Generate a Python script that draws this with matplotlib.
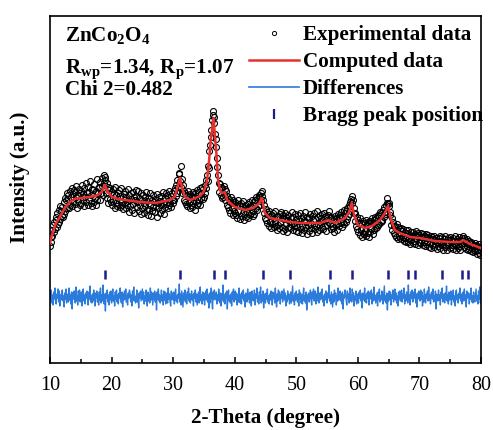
import numpy as np
import matplotlib
matplotlib.use("Agg")
import matplotlib.pyplot as plt
from matplotlib.lines import Line2D

plt.rcParams['font.family'] = ['Liberation Serif', 'DejaVu Serif']
plt.rcParams['mathtext.fontset'] = 'custom'
plt.rcParams['mathtext.rm'] = 'Liberation Serif'
plt.rcParams['mathtext.bf'] = 'Liberation Serif:bold'

# refined (computed) profile
calc_x = [10.0, 10.5, 11.0, 11.6, 12.4, 13.2, 14.0, 14.9, 16.5, 17.8, 18.4, 18.9, 19.4,
          20.1, 21.0, 22.2, 24.6, 27.1, 29.5, 30.2, 30.6, 31.1, 31.5, 31.9, 32.8, 34.4,
          35.0, 35.5, 35.8, 36.1, 36.55, 37.0, 37.3, 37.6, 37.9, 38.4, 38.75, 40.0, 41.7,
          43.0, 44.0, 44.4, 44.9, 45.7, 47.4, 49.0, 50.6, 52.2, 53.9, 55.2, 56.3, 57.9,
          58.6, 59.0, 59.4, 60.0, 61.2, 62.3, 63.6, 64.4, 64.9, 65.4, 66.0, 66.8, 68.5,
          70.1, 72.5, 75.0, 76.6, 77.1, 78.2, 80.0]
calc_y = [120, 132, 140, 146, 155, 161, 164, 165, 166, 168, 171, 178, 171,
          166, 164, 163, 161, 160, 163, 166, 173, 185, 174, 166, 163, 167,
          172, 182, 200, 222, 245, 212, 183, 173, 170, 171, 163, 156, 153,
          155, 160, 165, 150, 145, 143, 141, 140, 140, 140, 143, 140, 145,
          151, 160, 148, 138, 135, 137, 143, 150, 157, 143, 133, 130, 126,
          125, 122, 121, 121, 123, 119, 115]

# observed intensities, 10.0 .. 80.0 deg in 0.1 deg steps
obs_start, obs_step = 10.0, 0.1
obs_y = [
    117, 126, 121, 133, 127, 138, 131, 141, 134, 146,
    143, 136, 150, 139, 153, 141, 157, 144, 152, 147,
    156, 146, 161, 149, 165, 152, 163, 170, 155, 164,
    168, 155, 172, 158, 166, 175, 157, 169, 161, 173,
    159, 171, 166, 177, 155, 168, 162, 174, 158, 170,
    172, 160, 178, 163, 169, 157, 175, 166, 180, 161,
    170, 158, 176, 163, 171, 182, 160, 168, 174, 157,
    173, 161, 179, 165, 158, 172, 184, 163, 170, 176,
    175, 163, 181, 170, 177, 185, 168, 180, 188, 183,
    186, 170, 180, 165, 176, 160, 173, 164, 175, 161,
    171, 158, 174, 162, 169, 155, 176, 160, 168, 157,
    170, 159, 173, 156, 167, 161, 175, 158, 166, 154,
    169, 160, 172, 155, 165, 158, 174, 162, 151, 168,
    157, 170, 164, 153, 171, 159, 166, 150, 163, 173,
    167, 156, 161, 172, 152, 165, 158, 170, 149, 163,
    155, 168, 160, 150, 166, 157, 171, 153, 162, 148,
    165, 154, 170, 158, 147, 163, 152, 168, 156, 161,
    151, 164, 157, 169, 146, 160, 155, 166, 150, 162,
    158, 167, 153, 171, 160, 149, 165, 156, 170, 159,
    168, 155, 166, 158, 172, 160, 167, 156, 170, 163,
    160, 172, 163, 175, 167, 178, 170, 183, 176, 189,
    190, 182, 197, 176, 184, 170, 178, 163, 172, 161,
    170, 159, 168, 157, 172, 160, 166, 155, 169, 158,
    167, 156, 171, 160, 166, 153, 170, 162, 158, 173,
    160, 171, 163, 175, 158, 169, 165, 176, 164, 174,
    166, 178, 170, 183, 175, 188, 182, 197, 195, 212,
    218, 226, 233, 243, 248, 252, 246, 240, 229, 224,
    216, 205, 196, 188, 180, 171, 179, 168, 176, 165,
    175, 166, 177, 169, 174, 163, 172, 158, 167, 156,
    164, 153, 161, 150, 166, 155, 160, 148, 163, 152,
    150, 161, 148, 158, 145, 163, 152, 159, 144, 157,
    160, 147, 157, 150, 162, 143, 155, 149, 158, 146,
    151, 159, 145, 156, 161, 148, 157, 150, 163, 147,
    152, 161, 149, 163, 155, 166, 153, 164, 157, 168,
    166, 158, 170, 162, 172, 167, 163, 150, 158, 145,
    154, 143, 151, 140, 149, 137, 152, 141, 147, 135,
    148, 139, 150, 136, 145, 141, 152, 137, 146, 133,
    138, 147, 135, 149, 140, 151, 136, 145, 132, 148,
    144, 134, 150, 139, 146, 131, 143, 148, 136, 141,
    135, 145, 139, 151, 133, 146, 140, 137, 149, 132,
    144, 136, 148, 131, 142, 139, 150, 134, 145, 130,
    137, 147, 133, 143, 151, 136, 141, 129, 146, 138,
    145, 132, 149, 139, 135, 147, 130, 143, 138, 150,
    134, 144, 137, 152, 131, 146, 139, 133, 148, 141,
    145, 136, 149, 134, 143, 150, 137, 146, 132, 147,
    138, 148, 141, 152, 139, 145, 134, 146, 137, 143,
    135, 144, 131, 147, 138, 145, 133, 149, 140, 146,
    137, 148, 140, 151, 136, 147, 141, 153, 139, 150,
    141, 152, 144, 155, 147, 158, 149, 161, 157, 164,
    167, 160, 163, 150, 155, 142, 150, 137, 146, 134,
    143, 131, 140, 128, 145, 133, 139, 126, 142, 130,
    129, 140, 132, 143, 127, 138, 130, 141, 126, 142,
    131, 142, 134, 145, 129, 140, 143, 133, 146, 135,
    145, 136, 148, 138, 147, 139, 151, 141, 150, 143,
    142, 153, 146, 156, 151, 158, 149, 160, 165, 159,
    160, 157, 151, 148, 138, 145, 133, 141, 130, 137,
    128, 137, 126, 139, 133, 124, 136, 127, 134, 125,
    135, 124, 132, 126, 134, 122, 130, 125, 133, 121,
    130, 121, 133, 124, 128, 119, 131, 123, 127, 120,
    131, 122, 129, 119, 132, 124, 127, 118, 130, 121,
    128, 120, 130, 123, 126, 118, 129, 121, 127, 117,
    129, 119, 126, 121, 128, 116, 125, 120, 127, 115,
    126, 118, 124, 127, 116, 123, 119, 125, 114, 121,
    117, 125, 120, 127, 115, 122, 118, 126, 113, 121,
    124, 116, 127, 118, 121, 113, 125, 119, 123, 115,
    126, 116, 123, 118, 125, 114, 122, 119, 127, 113,
    118, 124, 115, 122, 117, 126, 113, 123, 119, 125,
    127, 120, 125, 116, 123, 114, 121, 117, 124, 113,
    122, 114, 120, 112, 121, 115, 119, 111, 118, 113,
    120, 112, 118, 109, 117, 113, 119, 110, 116, 108,
    112,
]

# obs - calc, same grid
diff_y = [
    4, -3, 7, -6, 2, -8, 5, -2, 9, -4,
    -7, 3, -1, 8, -5, 6, -9, 2, -3, 5,
    7, -4, 1, -10, 4, -2, 8, -6, 3, -1,
    -5, 9, -3, 2, -7, 5, -12, 4, -2, 6,
    3, -6, 10, -4, 1, -8, 6, -3, 7, -5,
    -2, 5, -9, 3, 8, -4, 2, -7, 4, -1,
    6, -3, -8, 5, -2, 11, -5, 1, -6, 3,
    -4, 7, -2, -9, 4, -1, 6, -5, 2, -8,
    5, -3, 9, -6, 2, -4, 12, -2, -7, 3,
    -14, 4, -1, 7, -5, 2, -8, 5, -3, 6,
    -6, 3, 8, -4, 1, -9, 5, -2, 7, -5,
    2, -7, 4, -1, 9, -3, -6, 5, -10, 3,
    -3, 6, -2, 8, -5, 1, -8, 4, -1, 7,
    4, -5, 2, -9, 6, -3, 10, -4, 1, -6,
    -2, 7, -5, 3, -11, 4, -1, 6, -4, 2,
    8, -3, 5, -7, 1, -4, 7, -2, -9, 5,
    -4, 2, -6, 9, -3, 5, -1, -8, 4, -2,
    6, -5, 3, -13, 5, -2, 8, -4, 2, -6,
    -1, 7, -4, 2, -8, 6, -3, 5, -7, 1,
    4, -6, 9, -2, 3, -5, -9, 6, -2, 4,
    -3, 5, -7, 2, 8, -4, 1, -6, 3, -1,
    13, -5, 3, -8, 6, -2, -10, 4, -3, 7,
    -5, 2, -7, 5, -1, 9, -4, 3, -6, 1,
    6, -3, 2, -9, 4, -1, 7, -5, 3, -8,
    -2, 5, -6, 3, 10, -4, 2, -7, 5, -3,
    4, -8, 1, 6, -3, 8, -5, 2, -11, 4,
    -6, 3, 9, -4, -12, 5, -2, 7, -3, 1,
    5, -7, 2, -4, 8, -1, -6, 4, -9, 3,
    -3, 12, -5, 2, -7, 4, -1, 6, -12, 2,
    7, -4, 1, -6, 3, -9, 5, -2, 8, -5,
    -1, 6, -3, 4, -8, 2, -5, 9, -2, -6,
    3, -7, 5, -1, 7, -4, 2, -10, 4, -2,
    -5, 8, -2, 3, -6, 5, -1, -9, 6, -3,
    2, -4, 7, -8, 3, -1, 9, -5, 1, -7,
    5, -2, 10, -6, 2, -4, 6, -11, 3, -1,
    -6, 4, -2, 8, -5, 1, -7, 3, -3, 6,
    2, -8, 5, -1, 4, -6, 9, -3, -10, 3,
    -4, 7, -2, 5, -7, 2, -1, 6, -5, 1,
    8, -3, 4, -9, 1, -5, 6, -2, 3, -7,
    -2, 5, -6, 2, 11, -4, 1, -8, 4, -3,
    6, -1, -5, 3, -9, 7, -2, 4, -6, 2,
    -7, 3, 9, -4, 1, -6, 5, -13, 2, -2,
    4, -5, 2, 7, -3, -8, 5, -1, 8, -4,
    -1, 6, -7, 3, -4, 10, -2, -6, 4, -3,
    5, -2, 8, -5, 1, -9, 3, -3, 6, -1,
    -6, 4, -1, 12, -4, 2, -7, 5, -2, -10,
    3, -5, 7, -2, 4, -8, 1, -4, 9, -3,
    -2, 6, -4, 3, -7, 5, -12, 2, -1, 7,
    4, -3, -8, 6, -1, 3, -6, 9, -4, 2,
    -5, 8, -2, 4, -9, 1, -3, 6, -7, 3,
    2, -6, 5, -1, 7, -4, 3, -11, 4, -2,
    -3, 9, -5, 2, -6, 4, -1, 6, -8, 1,
    5, -2, 7, -7, 3, -4, 10, -3, 2, -6,
    -1, 4, -9, 5, -2, 8, -5, 1, -3, 6,
    3, -7, 2, 11, -4, 1, -6, 4, -13, 3,
    -4, 6, -2, 5, -8, 2, -1, 7, -5, 3,
    8, -3, 4, -6, 1, -9, 5, -2, 6, -4,
    -2, 7, -5, 3, -1, 9, -7, 2, -4, 5,
    4, -6, 12, -3, 2, -8, 5, -1, 7, -5,
    -3, 5, -1, 8, -6, 3, -10, 4, -2, 6,
    2, -4, 7, -2, 5, -9, 1, -5, 8, -3,
    -6, 3, -1, 6, -4, 10, -3, 2, -7, 4,
    5, -2, 8, -5, 1, -4, 6, -12, 3, -1,
    -4, 7, -3, 2, -8, 5, -1, 9, -5, 2,
    3, -6, 4, -2, 11, -4, 2, -7, 5, -3,
    -1, 6, -8, 3, -2, 7, -5, 1, -9, 4,
    7, -3, 2, -6, 4, -1, 9, -4, 3, -7,
    -2, 5, -4, 8, -3, 2, -10, 6, -1, 4,
    4, -7, 3, -2, 9, -5, 1, -6, 5, -3,
    -5, 2, 8, -4, 1, -7, 6, -2, 10, -6,
    3,
]

bragg_pos = [18.9, 31.1, 36.7, 38.4, 44.6, 48.9, 55.4, 59.0, 64.9,
             68.2, 69.3, 73.7, 76.9, 77.9]

obs_x = obs_start + obs_step * np.arange(len(obs_y))
diff_base = 66      # vertical offset of the difference curve
bragg_lo, bragg_hi = 84, 93

red = '#e8302f'
blue = '#2b7bdc'
navy = '#1c1c8c'
fs = 15.2

fig = plt.figure(figsize=(4.93, 4.30), dpi=100)
ax = fig.add_axes([50/493, 67/430, 431/493, 347/430])

ax.plot(obs_x, obs_y, 'o', ms=4.3, mfc='none', mec='black', mew=0.8, zorder=2)
ax.plot(calc_x, calc_y, color=red, lw=1.8, zorder=3)
ax.plot(obs_x, np.array(diff_y) + diff_base, color=blue, lw=1.0, zorder=2)
ax.vlines(bragg_pos, bragg_lo, bragg_hi, color=navy, lw=1.8, zorder=2)

ax.set_xlim(10, 80)
ax.set_ylim(0, 347)
ax.set_yticks([])
ax.set_xticks(range(10, 81, 10))
ax.set_xticks(range(15, 80, 10), minor=True)
ax.tick_params(axis='x', which='major', direction='in', length=4, width=1.1,
               labelsize=14.5, pad=9)
ax.tick_params(axis='x', which='minor', direction='in', length=3, width=1.1)
for s in ax.spines.values():
    s.set_linewidth(1.2)

ax.set_xlabel('2-Theta (degree)', fontsize=fs, fontweight='bold', labelpad=10)
ax.set_ylabel('Intensity (a.u.)', fontsize=fs, fontweight='bold')
ax.yaxis.set_label_coords(-0.046, 0.535)

# refinement info
fig.text(65/493, 1 - 41/430, r'ZnCo$_\mathbf{2}$O$_\mathbf{4}$', fontsize=fs,
         fontweight='bold', va='baseline')
fig.text(65/493, 1 - 73/430, r'R$_\mathbf{wp}$=1.34, R$_\mathbf{p}$=1.07', fontsize=fs,
         fontweight='bold', va='baseline')
fig.text(65/493, 1 - 95/430, 'Chi 2=0.482', fontsize=fs,
         fontweight='bold', va='baseline')

handles = [
    Line2D([], [], ls='none', marker='o', ms=3, mfc='none', mec='black', mew=0.7),
    Line2D([], [], color=red, lw=1.8),
    Line2D([], [], color=blue, lw=1.2),
    Line2D([], [], ls='none', marker='|', ms=7, mew=1.6, color=navy),
]
labels = ['Experimental data', 'Computed data', 'Differences', 'Bragg peak position']
ax.legend(handles, labels, loc='upper right', bbox_to_anchor=(1.012, 1 - 6/347),
          frameon=False, prop={'weight': 'bold', 'size': fs},
          handlelength=2.35, handletextpad=0.2, labelspacing=0.33,
          borderpad=0.15, borderaxespad=0.0)

fig.savefig('out.png', dpi=100)
